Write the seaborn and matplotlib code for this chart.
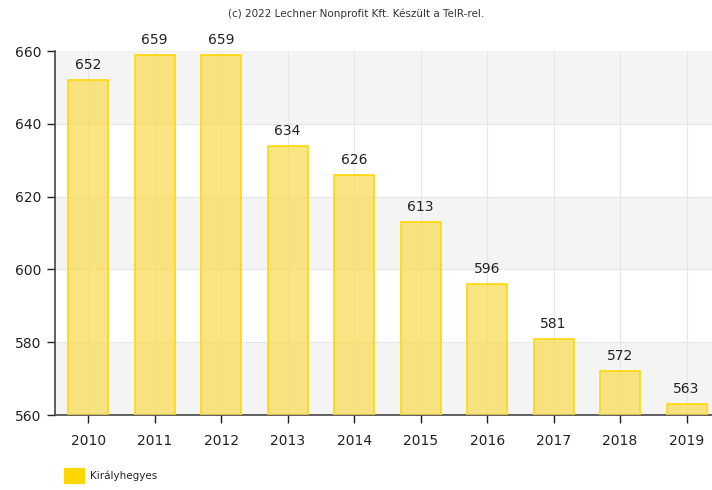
import matplotlib
matplotlib.use("Agg")
import matplotlib.pyplot as plt
import seaborn as sns
import pandas as pd
from matplotlib.patches import Patch

years = ["2010", "2011", "2012", "2013", "2014", "2015", "2016", "2017", "2018", "2019"]
values = [652, 659, 659, 634, 626, 613, 596, 581, 572, 563]
series_name = "Királyhegyes"
credit = "(c) 2022 Lechner Nonprofit Kft. Készült a TeIR-rel."

df = pd.DataFrame({"year": years, "value": values})

sns.set_style("white")
plt.rcParams["font.family"] = ["DejaVu Sans"]

fig = plt.figure(figsize=(7.12, 4.9), dpi=100)
ax = fig.add_axes([55 / 712, 1 - 415 / 490, 1 - 55 / 712, (415 - 51) / 490])

sns.barplot(data=df, x="year", y="value", color="#ffd700", saturation=1, width=0.6, ax=ax, zorder=3)
for p in ax.patches:
    p.set_facecolor((0.98, 0.86, 0.3, 0.7))
    p.set_edgecolor("#ffd60a")
    p.set_linewidth(1.2)

# alternating background bands
for lo in (560, 600, 640):
    ax.axhspan(lo, lo + 20, color="#f4f4f4", zorder=0, lw=0)
for y in range(580, 660, 20):
    ax.axhline(y, color="#e6e6e6", lw=0.8, zorder=1)
for i in range(len(years)):
    ax.axvline(i, color="#e6e6e6", lw=0.8, zorder=1)

for i, v in enumerate(values):
    ax.text(i, v + 2.2, str(v), ha="center", va="bottom", fontsize=10, color="#222222", zorder=4)

ax.set_ylim(560, 660)
ax.set_xlim(-0.5, (712 - 89) / 66.4)
ax.set_yticks(range(560, 661, 20))
ax.set_xlabel("")
ax.set_ylabel("")
ax.tick_params(axis="both", labelsize=10, colors="#222222", length=6, width=1, direction="out", pad=8)
ax.tick_params(axis="y", pad=4)
ax.tick_params(left=True, bottom=True)
for s in ("top", "right"):
    ax.spines[s].set_visible(False)
for s in ("left", "bottom"):
    ax.spines[s].set_color("#444444")
    ax.spines[s].set_linewidth(1.2)

fig.text(0.5, 1 - 14 / 490, credit, ha="center", va="center", fontsize=7.5, color="#333333")

handles = [Patch(facecolor="#ffd700", edgecolor="#ffd700")]
fig.legend(handles, [series_name], loc="lower left", bbox_to_anchor=(55 / 712, -0.005),
           frameon=False, fontsize=7.5, handlelength=1.9, handleheight=1.9, handletextpad=0.6)

fig.savefig("out.png", dpi=100)
